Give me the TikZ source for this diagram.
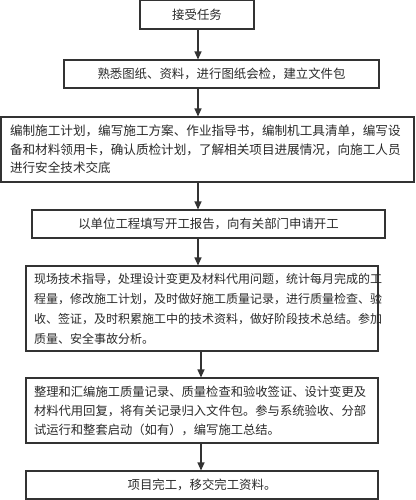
\documentclass[tikz,border=0pt]{standalone}
\usepackage{fontspec}
\setmainfont{Noto Sans CJK SC}
\usetikzlibrary{arrows.meta}
\definecolor{boxc}{HTML}{333333}
\definecolor{txt}{HTML}{2A2A2A}
\begin{document}
\begin{tikzpicture}[x=1pt,y=-1pt,
  box/.style={draw=boxc, line width=1.1pt, inner xsep=0pt, inner ysep=0pt, text=txt, fill=white},
  onel/.style={font=\fontsize{12.4}{19}\selectfont},
  arr/.style={draw=boxc, line width=1.2pt, -{Triangle[length=8pt,width=7pt]}}]
\fill[white] (0,0) rectangle (415,500);
\useasboundingbox (0,0) rectangle (415,500);
\node[box, onel, minimum width=114pt, minimum height=28.5pt] (b1) at (197,14.8) {接受任务};
\node[box, onel, minimum width=315pt, minimum height=28pt] (b2) at (221.5,74) {熟悉图纸、资料，进行图纸会检，建立文件包};
\node[box, font=\fontsize{12.6}{18.5}\selectfont, minimum width=413pt, minimum height=65pt, text width=395pt, inner xsep=9pt, align=left] (b3) at (207.5,149.5) {编制施工计划，编写施工方案、作业指导书，编制机工具清单，编写设\\备和材料领用卡，确认质检计划，了解相关项目进展情况，向施工人员\\进行安全技术交底};
\node[box, onel, minimum width=353pt, minimum height=28pt] (b4) at (208.5,224) {以单位工程填写开工报告，向有关部门申请开工};
\node[box, font=\fontsize{12.0}{20}\selectfont, minimum width=352pt, minimum height=85pt, text width=336pt, inner xsep=8pt, align=left] (b5) at (202,308.5) {现场技术指导，处理设计变更及材料代用问题，统计每月完成的工\\程量，修改施工计划，及时做好施工质量记录，进行质量检查、验\\收、签证，及时积累施工中的技术资料，做好阶段技术总结。参加\\质量、安全事故分析。};
\node[box, font=\fontsize{12.3}{19}\selectfont, minimum width=352pt, minimum height=65pt, text width=336pt, inner xsep=8pt, align=left] (b6) at (202,410.5) {整理和汇编施工质量记录、质量检查和验收签证、设计变更及\\材料代用回复，将有关记录归入文件包。参与系统验收、分部\\试运行和整套启动（如有），编写施工总结。};
\node[box, onel, minimum width=352pt, minimum height=28pt] (b7) at (202,485) {项目完工，移交完工资料。};
\coordinate (a1) at (198,0);
\coordinate (a2) at (201,0);
\draw[arr] (b1.south -| a1) -- (b2.north -| a1);
\draw[arr] (b2.south -| a1) -- (b3.north -| a1);
\draw[arr] (b3.south -| a1) -- (b4.north -| a1);
\draw[arr] (b4.south -| a1) -- (b5.north -| a1);
\draw[arr] (b5.south -| a2) -- (b6.north -| a2);
\draw[arr] (b6.south -| a2) -- (b7.north -| a2);
\end{tikzpicture}
\end{document}
